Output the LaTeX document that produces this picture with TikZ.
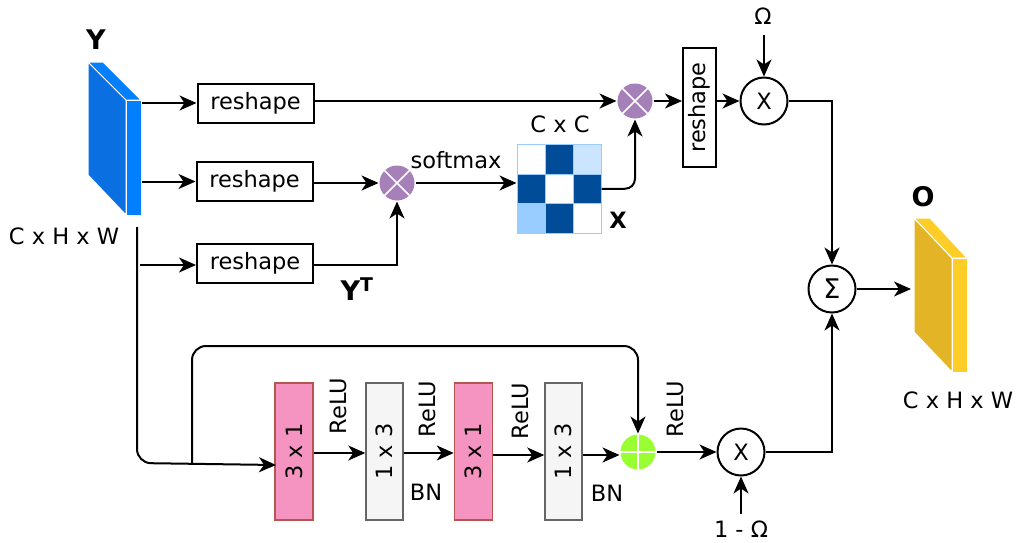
\documentclass[tikz,border=0pt]{standalone}
\usepackage{fontspec}
\setmainfont{DejaVu Sans}
\usetikzlibrary{arrows.meta}
\definecolor{bmain}{HTML}{0A6FE0}
\definecolor{bside}{HTML}{007FFF}
\definecolor{gmain}{HTML}{E3B526}
\definecolor{gside}{HTML}{FFCD28}
\definecolor{purp}{HTML}{A680B8}
\definecolor{grn}{HTML}{99FF33}
\definecolor{mdark}{HTML}{004C99}
\definecolor{mlight}{HTML}{CCE5FF}
\definecolor{mmid}{HTML}{99CCFF}
\definecolor{pinkf}{HTML}{F694C1}
\definecolor{pinkd}{HTML}{B85450}
\definecolor{grayf}{HTML}{F5F5F5}
\definecolor{grayd}{HTML}{666666}
\begin{document}
\begin{tikzpicture}[x=1pt,y=-1pt,
  font=\fontsize{22.5}{26}\selectfont,
  line width=2pt,
  arr/.style={-{Stealth[length=17pt,width=15pt,inset=5pt]}},
  rbox/.style={draw, line width=2pt, minimum width=116pt, minimum height=39pt, inner sep=0pt},
  vbox/.style={draw, line width=2pt, minimum width=33pt, minimum height=119pt, inner sep=0pt},
  pinkbox/.style={draw=pinkd, fill=pinkf, line width=1.5pt, minimum width=38pt, minimum height=137pt, inner sep=0pt},
  graybox/.style={draw=grayd, fill=grayf, line width=1.5pt, minimum width=37pt, minimum height=137pt, inner sep=0pt},
  pcirc/.style={circle, fill=purp, minimum size=35pt, inner sep=0pt},
  gcirc/.style={circle, fill=grn, minimum size=35pt, inner sep=0pt},
  ocirc/.style={circle, draw, line width=2pt, minimum size=47pt, inner sep=0pt},
  cell/.style={draw=mmid, line width=1pt, minimum width=28pt, minimum height=29.5pt, inner sep=0pt},
  lbl/.style={inner sep=0pt},
  big/.style={inner sep=0pt, font=\fontsize{27}{30}\selectfont\bfseries},
  face/.style={draw=white, line width=1pt}
]
\useasboundingbox (0,0) rectangle (1017,542);

% ---------- Y block ----------
\fill[bmain, face] (88,62) -- (126,100) -- (126,215) -- (88,175) -- cycle;
\fill[bside, face] (88,62) -- (103,62) -- (141,100) -- (126,100) -- cycle;
\node[fill=bside, face, minimum width=15pt, minimum height=115pt, inner sep=0pt] (ysd) at (133.5,157.5) {};
\node[big] (ylab) at (96,40) {Y};
\node[lbl] (ydim) at (64,236) {C x H x W};

% ---------- O block ----------
\fill[gmain, face] (914,218) -- (952,258) -- (952,372) -- (914,332) -- cycle;
\fill[gside, face] (914,218) -- (930,218) -- (967,258) -- (952,258) -- cycle;
\node[fill=gside, face, minimum width=15pt, minimum height=114pt, inner sep=0pt] (osd) at (959.5,315) {};
\node[big] (olab) at (923,197) {O};
\node[lbl] (odim) at (958,400) {C x H x W};
\coordinate (oin) at (911,287);

% ---------- reshape boxes ----------
\node[rbox] (r1) at (255.5,103) {reshape};
\node[rbox] (r2) at (254.5,181.5) {reshape};
\node[rbox] (r3) at (255,263.5) {reshape};
\node[vbox] (rv) at (699.5,107.5) {\rotatebox{90}{reshape}};

% ---------- multiplication circles ----------
\node[pcirc] (m1) at (397,183) {};
\draw[white, line width=1.5pt] (m1.north west) -- (m1.south east) (m1.north east) -- (m1.south west);
\node[pcirc] (m2) at (635,101) {};
\draw[white, line width=1.5pt] (m2.north west) -- (m2.south east) (m2.north east) -- (m2.south west);

% ---------- matrix ----------
\node[cell, fill=white]  (c11) at (531,159.25) {};
\node[cell, fill=mdark]  (c12) at (559,159.25) {};
\node[cell, fill=mlight] (c13) at (587,159.25) {};
\node[cell, fill=mdark]  (c21) at (531,188.75) {};
\node[cell, fill=white]  (c22) at (559,188.75) {};
\node[cell, fill=mdark]  (c23) at (587,188.75) {};
\node[cell, fill=mmid]   (c31) at (531,218.25) {};
\node[cell, fill=mdark]  (c32) at (559,218.25) {};
\node[cell, fill=white]  (c33) at (587,218.25) {};
\node[lbl] (cc) at (560,124) {C x C};
\node[lbl, font=\fontsize{22.5}{26}\selectfont\bfseries] (xl) at (618,220) {X};

% ---------- top right ----------
\node[ocirc] (x1) at (764,101) {X};
\node[lbl] (om) at (763,16) {Ω};
\node[ocirc, font=\fontsize{27}{30}\selectfont] (sg) at (832,289) {Σ};

% ---------- bottom branch ----------
\node[pinkbox] (b1) at (294,451.5) {\rotatebox{90}{3 x 1}};
\node[graybox] (b2) at (384.5,451.5) {\rotatebox{90}{1 x 3}};
\node[pinkbox] (b3) at (473.5,451.5) {\rotatebox{90}{3 x 1}};
\node[graybox] (b4) at (563.5,451.5) {\rotatebox{90}{1 x 3}};
\node[gcirc] (g) at (638,452) {};
\draw[white, line width=1.5pt] (g.north) -- (g.south) (g.west) -- (g.east);
\node[ocirc] (x2) at (741,452) {X};
\node[lbl] (om2) at (741,529) {1 - Ω};

\node[lbl, rotate=90] (re1) at (338,406) {ReLU};
\node[lbl, rotate=90] (re2) at (427,409) {ReLU};
\node[lbl, rotate=90] (re3) at (520,411) {ReLU};
\node[lbl, rotate=90] (re4) at (675,409) {ReLU};
\node[lbl] (bn1) at (426,492) {BN};
\node[lbl] (bn2) at (607,493) {BN};

% ---------- connectors ----------
\draw[arr] (ysd.east |- r1) -- (r1.west);
\draw[arr] (ysd.east |- r2) -- (r2.west);
\coordinate (y3) at (140,265);
\draw[arr] (y3) -- (y3 -| r3.west);
\draw[arr] (r1.east |- m2) -- (m2.west);
\draw[arr] (r2.east |- m1) -- (m1.west);
\draw[arr] (r3.east |- y3) -| (m1.south);
\node[big] (yt) at (357,289) {Y\textsuperscript{T}};
\draw[arr] (m1.east) -- (m1.east -| c21.west);
\node[lbl] (sm) at (456,160) {softmax};
\draw[arr, rounded corners=10pt] (c23.east) -| (m2.south);
\draw[arr] (m2.east) -- (m2.east -| rv.west);
\draw[arr] (rv.east |- x1) -- (x1.west);
\draw[arr] (x1.north |- om.south) ++(0,10) -- (x1.north);
\draw[arr] (x1.east) -| (sg.north);
\draw[arr] (sg.east) -- (sg.east -| oin);

\coordinate (ys) at (137,227);
\coordinate (b1in) at (276,465);
\draw[arr, rounded corners=14pt] (ys) -- (137,463) -- (b1in);
\coordinate (sk) at (192,464);
\coordinate (skt) at (192,346);
\draw[arr, rounded corners=14pt] (sk) -- (skt) -| (g.north);
\draw[arr] (b1.east |- 0,453) -- (b2.west |- 0,453);
\draw[arr] (b2.east |- 0,453) -- (b3.west |- 0,453);
\draw[arr] (b3.east |- 0,455) -- (b4.west |- 0,455);
\draw[arr] (b4.east |- 0,455) -- (g.west |- 0,455);
\draw[arr] (g.east) -- (x2.west);
\draw[arr] (x2.south |- om2.north) ++(0,-6) -- (x2.south);
\draw[arr] (x2.east) -| (sg.south);
\end{tikzpicture}
\end{document}
